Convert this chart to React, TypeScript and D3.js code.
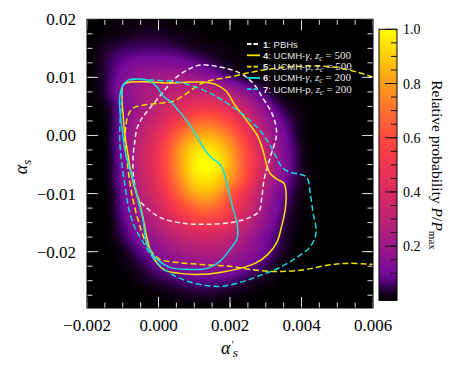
import React, { useMemo } from "react";
import * as d3 from "d3";

// ---------- data ----------
const xTicks = [-0.002, 0.0, 0.002, 0.004, 0.006];
const xTickLabels = ["−0.002", "0.000", "0.002", "0.004", "0.006"];
const yTicks = [0.02, 0.01, 0.0, -0.01, -0.02];
const yTickLabels = ["0.02", "0.01", "0.00", "−0.01", "−0.02"];
const cbTicks = [0.2, 0.4, 0.6, 0.8, 1.0];
const cbTickLabels = ["0.2", "0.4", "0.6", "0.8", "1.0"];

// density grid (relative probability), columns = gridX, rows = gridY
const gridX = [-0.002, -0.0015, -0.001, -0.0005, 0.0, 0.0005, 0.001, 0.0015, 0.002, 0.0025, 0.003, 0.0035, 0.004, 0.0045, 0.005, 0.0055, 0.006];
const gridY = [0.02, 0.0175, 0.015, 0.0125, 0.01, 0.0075, 0.005, 0.0025, 0.0, -0.0025, -0.005, -0.0075, -0.01, -0.0125, -0.015, -0.0175, -0.02, -0.0225, -0.025, -0.0275, -0.03];
const density = [
  [0, 0, .01, .01, .01, 0, 0, 0, 0, 0, 0, 0, 0, 0, 0, 0, 0],
  [0, .01, .02, .03, .03, .02, .01, 0, 0, 0, 0, 0, 0, 0, 0, 0, 0],
  [0, .03, .05, .06, .06, .05, .03, .02, .01, 0, 0, 0, 0, 0, 0, 0, 0],
  [0, .04, .09, .12, .13, .12, .09, .05, .02, .01, 0, 0, 0, 0, 0, 0, 0],
  [0, .04, .12, .19, .22, .23, .20, .14, .07, .02, .01, 0, 0, 0, 0, 0, 0],
  [0, .04, .14, .22, .27, .30, .32, .31, .24, .14, .05, .01, 0, 0, 0, 0, 0],
  [0, .02, .11, .21, .31, .40, .48, .49, .42, .28, .13, .04, .01, 0, 0, 0, 0],
  [0, .01, .12, .26, .38, .52, .65, .67, .57, .40, .21, .08, .02, 0, 0, 0, 0],
  [0, .01, .13, .30, .45, .66, .81, .83, .71, .50, .27, .11, .02, 0, 0, 0, 0],
  [0, .01, .13, .33, .50, .74, .93, .95, .81, .57, .32, .13, .03, 0, 0, 0, 0],
  [0, .01, .12, .33, .50, .75, .96, 1.0, .84, .59, .34, .14, .03, 0, 0, 0, 0],
  [0, .01, .12, .31, .48, .72, .92, .94, .80, .56, .30, .12, .03, 0, 0, 0, 0],
  [0, 0, .10, .28, .43, .64, .82, .84, .66, .45, .23, .09, .02, 0, 0, 0, 0],
  [0, 0, .09, .23, .37, .53, .67, .69, .55, .38, .19, .07, .01, 0, 0, 0, 0],
  [0, 0, .07, .18, .30, .41, .51, .53, .45, .31, .16, .05, .01, 0, 0, 0, 0],
  [0, 0, .05, .13, .22, .30, .36, .37, .32, .22, .11, .04, 0, 0, 0, 0, 0],
  [0, 0, .02, .08, .15, .21, .25, .26, .23, .17, .09, .03, 0, 0, 0, 0, 0],
  [0, 0, .01, .04, .09, .13, .16, .17, .15, .10, .05, .01, 0, 0, 0, 0, 0],
  [0, 0, 0, .02, .04, .06, .08, .08, .07, .04, .02, 0, 0, 0, 0, 0, 0],
  [0, 0, 0, 0, .01, .02, .03, .03, .02, .01, 0, 0, 0, 0, 0, 0, 0],
  [0, 0, 0, 0, 0, 0, 0, 0, 0, 0, 0, 0, 0, 0, 0, 0, 0],
];

// colormap
const cmapStops = [0, 0.03, 0.06, 0.1, 0.2, 0.3, 0.4, 0.5, 0.6, 0.7, 0.8, 0.9, 1.0];
const cmapColors = ["#000000", "#1a0024", "#46006c", "#760a98", "#9c1888", "#bd2273", "#d82a60", "#ef3450", "#ff4a3e", "#ff7030", "#ff9c1c", "#ffcc08", "#ffff00"];

// contours [alpha'_s, alpha_s]
const pbhContour: [number, number][] = [
  [0.00116, 0.01212], [0.00172, 0.01178], [0.00228, 0.01074], [0.00264, 0.00902], [0.00292, 0.00643],
  [0.00317, 0.00384], [0.00329, 0.00143], [0.00329, -0.00047], [0.00317, -0.00288], [0.00306, -0.00512],
  [0.00295, -0.00771], [0.00289, -0.01064], [0.00281, -0.01305], [0.00256, -0.01409], [0.00208, -0.01495],
  [0.00136, -0.01529], [0.00069, -0.01512], [0.00004, -0.01409], [-0.00032, -0.01253], [-0.00057, -0.01081],
  [-0.00066, -0.00857], [-0.00071, -0.00633], [-0.00071, -0.0034], [-0.00066, -0.00098], [-0.0006, 0.00126],
  [-0.00046, 0.00298], [-0.00024, 0.00471], [0.00013, 0.00747], [0.00041, 0.00953], [0.0008, 0.01126],
];
const ucmhGamma500: [number, number][] = [
  [-0.00102, 0.00747], [-0.00099, 0.00867], [-0.0008, 0.00919], [-0.00024, 0.00919], [0.00032, 0.00902],
  [0.00088, 0.00919], [0.00124, 0.00919], [0.00164, 0.00867], [0.00189, 0.00764], [0.00214, 0.00522],
  [0.00248, 0.00247], [0.00276, 0.00005], [0.00292, -0.00253], [0.00303, -0.00512], [0.00312, -0.0065],
  [0.00331, -0.00753], [0.00351, -0.00822], [0.00357, -0.01029], [0.00354, -0.01288], [0.00345, -0.01547],
  [0.00331, -0.0184], [0.00306, -0.02047], [0.0027, -0.02202], [0.00228, -0.02288], [0.00172, -0.02357],
  [0.00116, -0.02391], [0.0006, -0.02374], [0.00018, -0.02322], [-0.00004, -0.02202], [-0.00021, -0.02012],
  [-0.00032, -0.01771], [-0.00043, -0.01426], [-0.00055, -0.01116], [-0.00069, -0.00857], [-0.00077, -0.00633],
  [-0.00085, -0.0034], [-0.00094, 0.00005], [-0.00099, 0.0035], [-0.00102, 0.00609],
];
const ucmhP500: [number, number][] = [
  [0.006, 0.01005], [0.00555, 0.01091], [0.00488, 0.01178], [0.00415, 0.01195], [0.00331, 0.0116],
  [0.00248, 0.01074], [0.002, 0.01005], [0.00164, 0.00971], [0.00116, 0.00884], [0.0008, 0.00729],
  [0.00041, 0.00591], [0.00004, 0.00557], [-0.00043, 0.00522], [-0.00071, 0.00471], [-0.00085, 0.0035],
  [-0.00091, 0.00178], [-0.00094, -0.00133], [-0.00088, -0.00426], [-0.00083, -0.00684], [-0.00074, -0.01029],
  [-0.00057, -0.0146], [-0.00038, -0.01805], [-0.00018, -0.02012], [0.00004, -0.02133], [0.00052, -0.02185],
  [0.00116, -0.02219], [0.002, -0.02253], [0.00256, -0.02305], [0.0032, -0.0234], [0.00396, -0.02322],
  [0.00471, -0.02236], [0.00527, -0.02202], [0.006, -0.02219],
];
const ucmhGamma200: [number, number][] = [
  [-0.00108, 0.00695], [-0.00102, 0.00833], [-0.00085, 0.00953], [-0.0006, 0.00971], [-0.00024, 0.00936],
  [-0.00004, 0.00833], [0.00013, 0.00678], [0.00032, 0.00591], [0.0006, 0.00402], [0.00088, 0.00178],
  [0.0011, -0.00047], [0.0013, -0.00253], [0.0015, -0.00391], [0.00172, -0.00495], [0.00183, -0.00633],
  [0.00192, -0.00857], [0.00208, -0.01253], [0.0022, -0.01512], [0.0022, -0.01771], [0.002, -0.0196],
  [0.00172, -0.02167], [0.00136, -0.02288], [0.0008, -0.02305], [0.00032, -0.02271], [-0.00004, -0.02133],
  [-0.00024, -0.01978], [-0.00035, -0.01805], [-0.00043, -0.0146], [-0.00057, -0.01116], [-0.00071, -0.00771],
  [-0.00083, -0.00512], [-0.00094, -0.00253], [-0.00102, 0.00126], [-0.00108, 0.00436],
];
const ucmhP200: [number, number][] = [
  [-0.00102, 0.0066], [-0.00099, 0.00867], [-0.0008, 0.00953], [-0.00015, 0.00953], [0.00052, 0.00919],
  [0.00096, 0.0085], [0.00144, 0.00729], [0.00178, 0.00609], [0.00228, 0.00402], [0.00264, 0.00212],
  [0.00292, 0.00022], [0.00312, -0.00167], [0.00331, -0.00391], [0.00345, -0.00547], [0.00368, -0.00633],
  [0.00396, -0.00667], [0.00415, -0.00719], [0.00424, -0.00978], [0.00432, -0.01322], [0.00441, -0.01633],
  [0.00435, -0.01805], [0.00418, -0.0196], [0.00387, -0.02098], [0.0034, -0.02271], [0.00284, -0.02409],
  [0.00228, -0.02529], [0.00172, -0.02598], [0.00116, -0.02564], [0.0006, -0.0246], [0.00013, -0.02288],
  [-0.00018, -0.02081], [-0.00043, -0.0184], [-0.00069, -0.01547], [-0.00085, -0.01202], [-0.00094, -0.00857],
  [-0.00102, -0.00512], [-0.00108, -0.00133], [-0.00108, 0.00178], [-0.00105, 0.00436],
];

const legendNumbers = ["1", "4", "5", "6", "7"];
const legendNames = ["PBHs", "UCMH-", "UCMH-p", "UCMH-", "UCMH-p"];
const legendGamma = [false, true, false, true, false];
const legendZc = ["", "500", "500", "200", "200"];

// ---------- component ----------
const W = 455;
const H = 370;
const PX0 = 87, PX1 = 373, PY0 = 19.3, PY1 = 308;
const CBX = 379, CBW = 18, CBY0 = 29.3, CBY1 = 300.4;

function cr(p0: number, p1: number, p2: number, p3: number, t: number) {
  return 0.5 * (2 * p1 + (-p0 + p2) * t + (2 * p0 - 5 * p1 + 4 * p2 - p3) * t * t + (-p0 + 3 * p1 - 3 * p2 + p3) * t * t * t);
}

export default function App() {
  const xScale = d3.scaleLinear().domain([-0.002, 0.006]).range([PX0, PX1]);
  const yScale = d3.scaleLinear().domain([-0.0297, 0.02]).range([PY1, PY0]);
  const cScale = d3.scaleLinear<string>().domain(cmapStops).range(cmapColors).interpolate(d3.interpolateRgb).clamp(true);
  const cbScale = d3.scaleLinear().domain([0, 1]).range([CBY1, CBY0]);

  const heatUrl = useMemo(() => {
    const w = Math.round(PX1 - PX0);
    const h = Math.round(PY1 - PY0);
    const canvas = document.createElement("canvas");
    canvas.width = w;
    canvas.height = h;
    const ctx = canvas.getContext("2d")!;
    const img = ctx.createImageData(w, h);
    const lut: number[][] = [];
    for (let i = 0; i <= 255; i++) {
      const c = d3.rgb(cScale(i / 255));
      lut.push([c.r, c.g, c.b]);
    }
    const nx = gridX.length, ny = gridY.length;
    const dx = gridX[1] - gridX[0];
    const dy = gridY[1] - gridY[0];
    const g = (r: number, c: number) => density[Math.max(0, Math.min(ny - 1, r))][Math.max(0, Math.min(nx - 1, c))];
    for (let j = 0; j < h; j++) {
      const yd = yScale.invert(PY0 + j + 0.5);
      const fy = (yd - gridY[0]) / dy;
      const r1 = Math.floor(fy);
      const ty = fy - r1;
      for (let i = 0; i < w; i++) {
        const xd = xScale.invert(PX0 + i + 0.5);
        const fx = (xd - gridX[0]) / dx;
        const c1 = Math.floor(fx);
        const tx = fx - c1;
        const rows: number[] = [];
        for (let k = -1; k <= 2; k++) {
          rows.push(cr(g(r1 + k, c1 - 1), g(r1 + k, c1), g(r1 + k, c1 + 1), g(r1 + k, c1 + 2), tx));
        }
        let v = cr(rows[0], rows[1], rows[2], rows[3], ty);
        v = Math.max(0, Math.min(1, v));
        const col = lut[Math.round(v * 255)];
        const idx = (j * w + i) * 4;
        img.data[idx] = col[0];
        img.data[idx + 1] = col[1];
        img.data[idx + 2] = col[2];
        img.data[idx + 3] = 255;
      }
    }
    ctx.putImageData(img, 0, 0);
    return canvas.toDataURL();
  }, []);

  const closedLine = d3.line<[number, number]>().x((d) => xScale(d[0])).y((d) => yScale(d[1])).curve(d3.curveCatmullRomClosed.alpha(0.5));
  const openLine = d3.line<[number, number]>().x((d) => xScale(d[0])).y((d) => yScale(d[1])).curve(d3.curveCatmullRom.alpha(0.5));

  const xMinor = d3.range(-0.002, 0.00601, 0.0005);
  const yMinor = d3.range(-0.0275, 0.02001, 0.0025);
  const cbMinor = d3.range(0.05, 1.0, 0.05);

  const tickColor = "#dcdcdc";
  const serif = "'Liberation Serif', 'Times New Roman', serif";
  const sans = "'Liberation Sans', Arial, sans-serif";

  const contours = [
    { pts: pbhContour, color: "#f2f2f2", dash: "5,3", closed: true },
    { pts: ucmhGamma500, color: "#ffe600", dash: "", closed: true },
    { pts: ucmhP500, color: "#f0e400", dash: "6,3", closed: false },
    { pts: ucmhGamma200, color: "#10e0e0", dash: "", closed: true },
    { pts: ucmhP200, color: "#10d8dc", dash: "6,3", closed: true },
  ];
  const legendY0 = 44;
  const legendDY = 11.3;

  return (
    <svg width={W} height={H} style={{ position: "absolute", left: 0, top: 0, background: "#fff" }}>
      <defs>
        <clipPath id="plotclip">
          <rect x={PX0} y={PY0} width={PX1 - PX0} height={PY1 - PY0} />
        </clipPath>
        <linearGradient id="cbgrad" x1="0" y1="1" x2="0" y2="0">
          {cmapStops.map((s, i) => (
            <stop key={i} offset={s} stopColor={cmapColors[i]} />
          ))}
        </linearGradient>
      </defs>

      <rect x={PX0} y={PY0} width={PX1 - PX0} height={PY1 - PY0} fill="#000" />
      <image href={heatUrl} x={PX0} y={PY0} width={PX1 - PX0} height={PY1 - PY0} preserveAspectRatio="none" />

      <g clipPath="url(#plotclip)">
        {contours.map((c, i) => (
          <path
            key={i}
            d={(c.closed ? closedLine : openLine)(c.pts) || ""}
            fill="none"
            stroke={c.color}
            strokeWidth={1.5}
            strokeDasharray={c.dash || undefined}
          />
        ))}
      </g>

      {/* ticks */}
      <g stroke={tickColor} strokeWidth={1}>
        {xMinor.map((t, i) => (
          <g key={"xm" + i}>
            <line x1={xScale(t)} x2={xScale(t)} y1={PY1} y2={PY1 - 5.5} />
            <line x1={xScale(t)} x2={xScale(t)} y1={PY0} y2={PY0 + 5.5} />
          </g>
        ))}
        {xTicks.map((t, i) => (
          <g key={"xM" + i}>
            <line x1={xScale(t)} x2={xScale(t)} y1={PY1} y2={PY1 - 11} />
            <line x1={xScale(t)} x2={xScale(t)} y1={PY0} y2={PY0 + 11} />
          </g>
        ))}
        {yMinor.map((t, i) => (
          <g key={"ym" + i}>
            <line x1={PX0} x2={PX0 + 5.5} y1={yScale(t)} y2={yScale(t)} />
            <line x1={PX1} x2={PX1 - 5.5} y1={yScale(t)} y2={yScale(t)} />
          </g>
        ))}
        {yTicks.map((t, i) => (
          <g key={"yM" + i}>
            <line x1={PX0} x2={PX0 + 11} y1={yScale(t)} y2={yScale(t)} />
            <line x1={PX1} x2={PX1 - 11} y1={yScale(t)} y2={yScale(t)} />
          </g>
        ))}
      </g>
      <rect x={PX0} y={PY0} width={PX1 - PX0} height={PY1 - PY0} fill="none" stroke="#000" strokeWidth={1} />

      {/* tick labels */}
      <g fontFamily={serif} fontSize={17} fill="#000">
        {xTicks.map((t, i) => (
          <text key={"xl" + i} x={xScale(t)} y={331} textAnchor="middle">
            {xTickLabels[i]}
          </text>
        ))}
        {yTicks.map((t, i) => (
          <text key={"yl" + i} x={76} y={yScale(t) + 6} textAnchor="end">
            {yTickLabels[i]}
          </text>
        ))}
      </g>

      {/* axis labels */}
      <g fontFamily={serif} fill="#000">
        <text transform="translate(27,167) rotate(-90)" textAnchor="middle" fontSize={18}>
          <tspan fontStyle="italic">α</tspan>
          <tspan fontStyle="italic" fontSize={13} dy={4}>s</tspan>
        </text>
        <text x={221} y={354} fontSize={18}>
          <tspan fontStyle="italic">α</tspan>
          <tspan fontSize={11} dx={1} dy={-6}>′</tspan>
          <tspan fontStyle="italic" fontSize={13} dx={-1} dy={9}>s</tspan>
        </text>
      </g>

      {/* legend */}
      <g>
        {legendNumbers.map((n, i) => {
          const ly = legendY0 + i * legendDY;
          const c = contours[i];
          return (
            <g key={"lg" + i}>
              <line x1={247} x2={260} y1={ly} y2={ly} stroke={c.color} strokeWidth={1.8} strokeDasharray={c.dash ? "4.5,2" : undefined} />
              <text x={263} y={ly + 3.5} fontSize={9.5} fontFamily={sans} fill="#e6e6e6">
                <tspan fontWeight="bold">{n}</tspan>
                <tspan>{": " + legendNames[i]}</tspan>
                {legendGamma[i] ? <tspan fontFamily={serif} fontStyle="italic" fontSize={11}>γ</tspan> : null}
                {legendZc[i] ? (
                  <>
                    <tspan>{", "}</tspan>
                    <tspan fontFamily={serif} fontStyle="italic" fontSize={11}>z</tspan>
                    <tspan fontFamily={serif} fontStyle="italic" fontSize={8} dy={2}>c</tspan>
                    <tspan fontFamily={serif} fontSize={11} dy={-2}>{" = " + legendZc[i]}</tspan>
                  </>
                ) : null}
              </text>
            </g>
          );
        })}
      </g>

      {/* colorbar */}
      <rect x={CBX} y={CBY0} width={CBW} height={CBY1 - CBY0} fill="url(#cbgrad)" stroke="#000" strokeWidth={1} />
      <g stroke="#111" strokeWidth={1}>
        {cbMinor.map((t, i) => (
          <line key={"cbm" + i} x1={CBX + CBW - 6} x2={CBX + CBW} y1={cbScale(t)} y2={cbScale(t)} />
        ))}
        {cbTicks.map((t, i) => (
          <line key={"cbM" + i} x1={CBX + CBW - 12} x2={CBX + CBW} y1={cbScale(t)} y2={cbScale(t)} />
        ))}
      </g>
      <g fontFamily={serif} fontSize={14} fill="#000">
        {cbTicks.map((t, i) => (
          <text key={"cbl" + i} x={CBX + CBW + 6} y={cbScale(t) + 5}>
            {cbTickLabels[i]}
          </text>
        ))}
      </g>
      <text transform="translate(432,165) rotate(90)" textAnchor="middle" fontFamily={serif} fontSize={15.5} fill="#000">
        Relative probability <tspan fontStyle="italic">P</tspan>/<tspan fontStyle="italic">P</tspan>
        <tspan fontSize={11} dy={3}>max</tspan>
      </text>
    </svg>
  );
}
